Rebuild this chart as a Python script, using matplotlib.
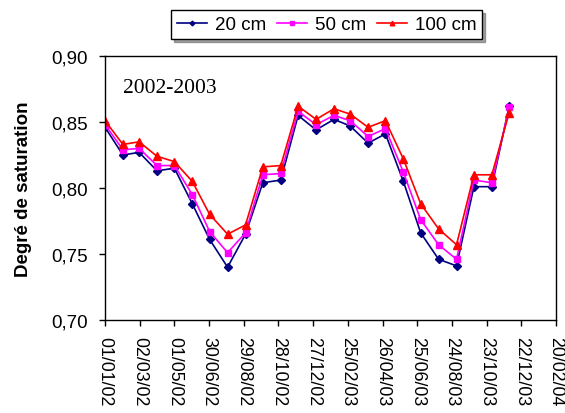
import numpy as np
import matplotlib
matplotlib.use("Agg")
import matplotlib.pyplot as plt
import matplotlib.dates as mdates
from datetime import date, timedelta

# ---- data ----
months = [date(2002 + (i // 12), (i % 12) + 1, 1) for i in range(24)]
s20 = [0.846, 0.825, 0.827, 0.813, 0.815, 0.788, 0.761, 0.740, 0.765, 0.804, 0.806, 0.855,
       0.844, 0.852, 0.847, 0.834, 0.841, 0.805, 0.766, 0.746, 0.741, 0.801, 0.801, 0.862]
s50 = [0.848, 0.829, 0.830, 0.817, 0.817, 0.795, 0.767, 0.751, 0.766, 0.810, 0.811, 0.858,
       0.848, 0.855, 0.851, 0.839, 0.845, 0.812, 0.776, 0.757, 0.746, 0.806, 0.804, 0.861]
s100 = [0.851, 0.833, 0.835, 0.824, 0.820, 0.805, 0.780, 0.765, 0.772, 0.816, 0.817, 0.862,
        0.852, 0.860, 0.856, 0.846, 0.851, 0.822, 0.788, 0.769, 0.757, 0.810, 0.810, 0.857]
series_names = ["20 cm", "50 cm", "100 cm"]
tick_labels = ["01/01/02", "02/03/02", "01/05/02", "30/06/02", "29/08/02", "28/10/02",
               "27/12/02", "25/02/03", "26/04/03", "25/06/03", "24/08/03", "23/10/03",
               "22/12/03", "20/02/04"]
y_ticks = [0.70, 0.75, 0.80, 0.85, 0.90]
y_tick_labels = ["0,70", "0,75", "0,80", "0,85", "0,90"]

plt.rcParams['font.family'] = ['Liberation Sans', 'DejaVu Sans']

fig = plt.figure(figsize=(5.65, 4.14), dpi=100)
ax = fig.add_axes([105/565, 93/414, 451/565, 264/414])

tick_dates = [date(2000 + int(t[6:]), int(t[3:5]), int(t[:2])) for t in tick_labels]

ax.plot(months, s20, color="#000080", marker="D", markersize=4, lw=1.2, label=series_names[0])
ax.plot(months, s50, color="#FF00FF", marker="s", markersize=4.5, lw=1.2, label=series_names[1])
ax.plot(months, s100, color="#FF0000", marker="^", markersize=5.5, lw=1.2, label=series_names[2])

ax.set_xlim(tick_dates[0], tick_dates[-1])
ax.set_xticks(tick_dates)
ax.set_xticklabels(tick_labels, rotation=-90, fontsize=12.8)
ax.set_ylim(0.70, 0.90)
ax.set_yticks(y_ticks)
ax.set_yticklabels(y_tick_labels, fontsize=13.5)
ax.tick_params(axis='both', direction='out', length=4, width=1)
ax.tick_params(axis='x', pad=7.5)
ax.tick_params(axis='y', pad=8.5)
for sp in ax.spines.values():
    sp.set_color('black')
    sp.set_linewidth(1)

ax.set_ylabel("Degré de saturation", fontsize=13.5, fontweight='bold', labelpad=14)

ax.text(0.04, 0.864, "2002-2003", transform=ax.transAxes, fontsize=15.5,
        family=['Liberation Serif', 'DejaVu Serif'], va='baseline', ha='left')

leg = fig.legend(loc='center', bbox_to_anchor=(0.578, 0.938), ncol=3, fontsize=13.5,
                 frameon=True, fancybox=False, shadow=True, handlelength=1.6,
                 columnspacing=0.6, handletextpad=0.4, borderpad=0.3, markerscale=0.6)
leg.get_frame().set_edgecolor('black')
leg.get_frame().set_linewidth(1)

fig.savefig("out.png", dpi=100)
